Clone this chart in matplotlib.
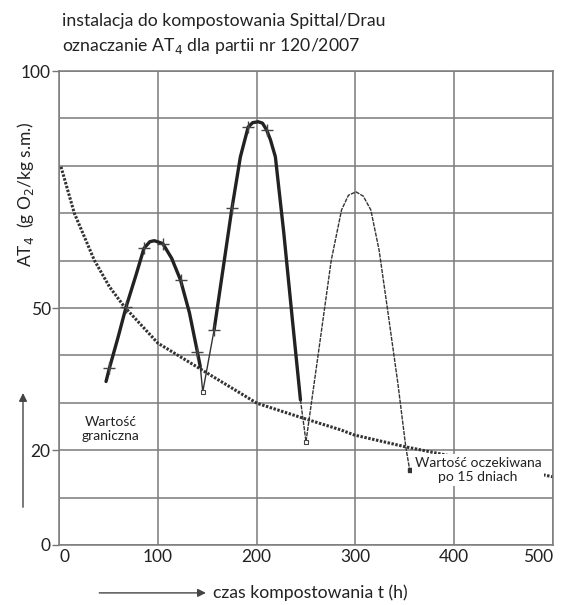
import matplotlib.pyplot as plt

plt.rcParams['font.family'] = ['Lato', 'DejaVu Sans']

# krzywa graniczna (kropkowana)
limit_t = [2, 15.5, 35.7, 51, 66, 100, 150.5, 200.4, 248, 285, 299, 351, 386.6, 499.7]
limit_v = [79.8, 70, 60.1, 54.5, 50.3, 42.6, 36.2, 29.9, 26.7, 24.3, 23.2, 20.7, 19.2, 14.4]

# partia 1 - pomiary (gruba linia)
c1_t = [47.6, 51, 60, 68, 78, 86, 92, 96.5, 105, 114, 123, 132, 140, 143]
c1_v = [34.5, 37.3, 44, 50.3, 57, 62.6, 64.0, 64.2, 63.6, 60.5, 55.9, 49, 40.8, 37.6]
c1_mark_t = [51, 68, 86, 105, 123, 140]
c1_mark_v = [37.3, 50.3, 62.6, 63.6, 55.9, 40.8]

# przejscie 1 -> 2 (cienka linia)
d1_t = [143, 145.5, 157]
d1_v = [37.6, 32.3, 45.4]

# partia 2
c2_t = [157, 175, 183.6, 191.5, 196, 201.6, 206, 210.3, 214, 219, 227.5, 236, 244.4]
c2_v = [45.4, 71, 81.9, 88.2, 89.1, 89.3, 89.0, 87.5, 85.5, 81.9, 65.9, 48, 30.6]
c2_mark_t = [157, 175, 191.5, 210.3]
c2_mark_v = [45.4, 71, 88.2, 87.5]

# partia 3 (cienka linia)
c3_t = [244.4, 250, 262, 275.5, 286, 293, 300.6, 308, 315.6, 324, 332.6, 343, 351, 355]
c3_v = [30.6, 21.8, 39.7, 60, 70.7, 73.8, 74.5, 73.6, 70.7, 62.2, 49.6, 34.1, 20.7, 15.8]

# minima
min_t = [145.5, 250]
min_v = [32.3, 21.8]
end_t = [355]
end_v = [15.8]

x_ticks = [0, 100, 200, 300, 400, 500]
y_ticks = [0, 20, 50, 100]

fig = plt.figure(figsize=(5.61, 6.05), dpi=100)
ax = fig.add_axes([0.1052, 0.0992, 0.8805, 0.7834])

ax.set_xlim(0, 500)
ax.set_ylim(0, 100)
ax.set_xticks(x_ticks)
ax.set_yticks(y_ticks)
ax.set_yticks(range(0, 101, 10), minor=True)
ax.tick_params(axis='x', length=0, labelsize=12.5, pad=3, colors='#222')
ax.tick_params(axis='y', length=5, width=1, color='#777', labelsize=12.5, pad=1, labelcolor='#222')
ax.tick_params(which='minor', length=0)
xl = ax.get_xticklabels()
xl[0].set_ha('left')
xl[-1].set_ha('right')
ax.grid(True, which='both', color='#7a7a7a', lw=1.1)
for s in ax.spines.values():
    s.set_color('#7a7a7a')
    s.set_linewidth(1.1)
ax.set_axisbelow(True)

ax.plot(limit_t, limit_v, color='#333', lw=2.2, ls=(0, (0.8, 0.5)))

ax.plot(c1_t, c1_v, color='#222', lw=2.4, solid_capstyle='round')
ax.plot(c1_mark_t, c1_mark_v, ls='none', marker='+', ms=9, mew=1, color='#444')
ax.plot(d1_t, d1_v, color='#333', lw=1.0)
ax.plot(c2_t, c2_v, color='#222', lw=2.4, solid_capstyle='round')
ax.plot(c2_mark_t, c2_mark_v, ls='none', marker='+', ms=9, mew=1, color='#444')
ax.plot(c3_t, c3_v, color='#333', lw=1.0, ls=(0, (3, 0.8)))
ax.plot(min_t, min_v, ls='none', marker='s', ms=3.5, mfc='white', mec='#444', mew=0.8)
ax.plot(end_t, end_v, ls='none', marker='s', ms=3.2, color='#333')

ax.text(52, 24.5, 'Wartość\ngraniczna', ha='center', va='center', fontsize=10,
        color='#222', linespacing=1.2,
        bbox=dict(facecolor='white', edgecolor='none', pad=2))
ax.text(424, 15.8, 'Wartość oczekiwana\npo 15 dniach', ha='center', va='center',
        fontsize=10, color='#222', linespacing=1.2,
        bbox=dict(facecolor='white', edgecolor='none', pad=2))

fig.text(0.111, 0.966, 'instalacja do kompostowania Spittal/Drau', fontsize=12.7,
         color='#222', va='center')
fig.text(0.111, 0.924, 'oznaczanie AT$_4$ dla partii nr 120/2007', fontsize=12.7,
         color='#222', va='center')

fig.text(0.045, 0.68, 'AT$_4$  (g O$_2$/kg s.m.)', rotation=90, fontsize=12.5,
         color='#222', ha='center', va='center')
ax.annotate('', xy=(0.041, 0.355), xytext=(0.041, 0.157), xycoords='figure fraction',
            textcoords='figure fraction', annotation_clip=False,
            arrowprops=dict(arrowstyle='-|>', color='#444', lw=1, mutation_scale=12))

ax.annotate('', xy=(0.372, 0.020), xytext=(0.172, 0.020), xycoords='figure fraction',
            textcoords='figure fraction', annotation_clip=False,
            arrowprops=dict(arrowstyle='-|>', color='#444', lw=1, mutation_scale=12))
fig.text(0.38, 0.020, 'czas kompostowania t (h)', fontsize=12.7, color='#222', va='center')

fig.savefig('out.png', dpi=100)
